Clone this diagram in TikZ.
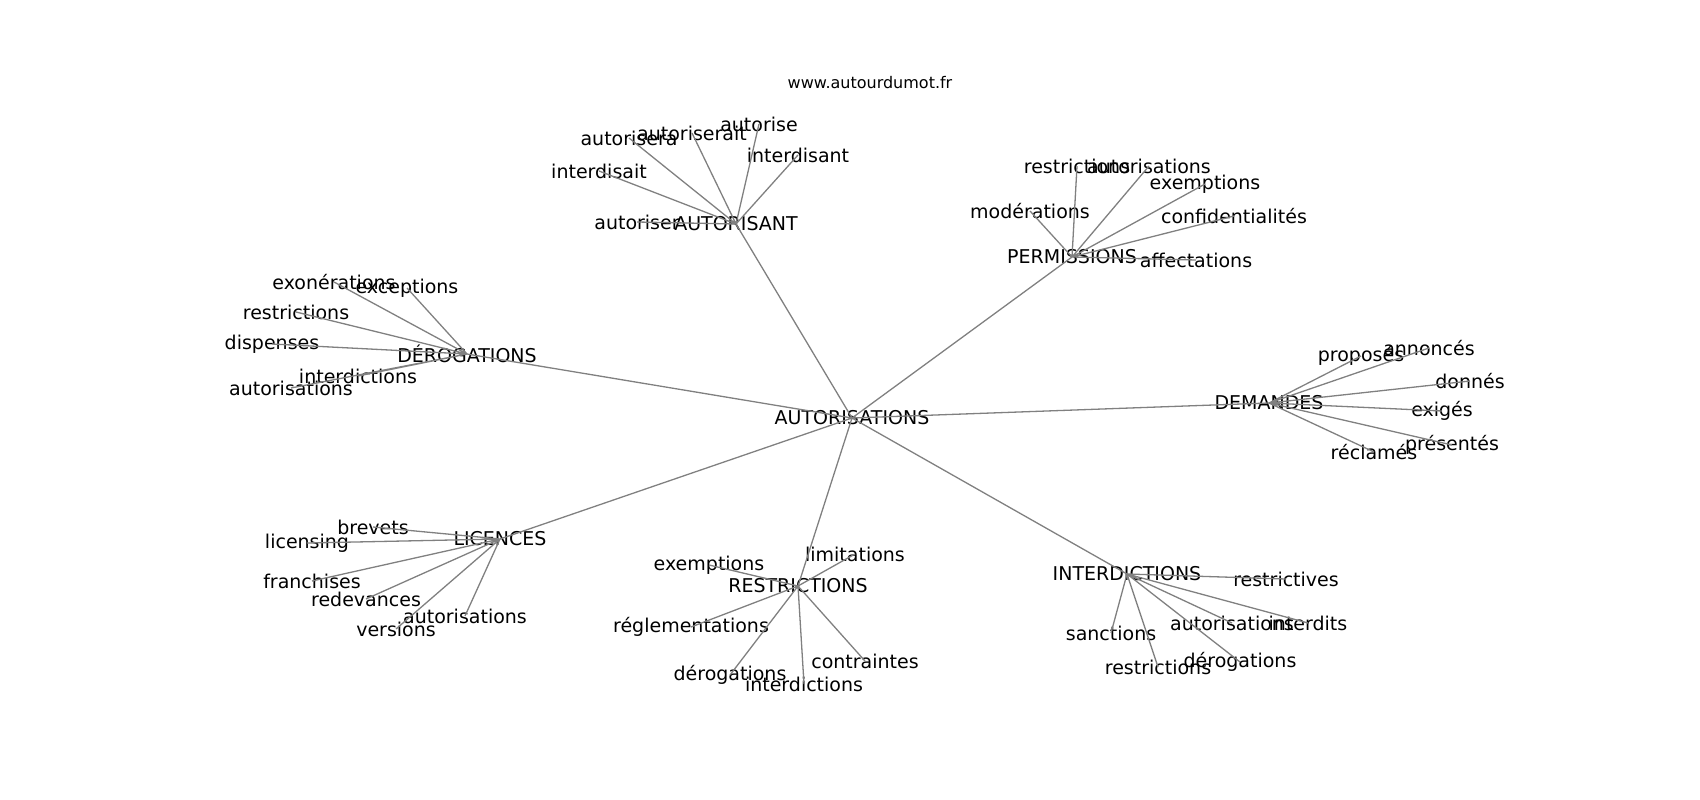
\documentclass[tikz,border=0pt]{standalone}
\usepackage{fontspec}
\setmainfont{DejaVu Sans}

\begin{document}
\begin{tikzpicture}[x=1pt,y=-1pt,
    word/.style={inner sep=0,text=black,font=\wordfontsize},
    edge/.style={draw=gray,line width=1.3pt}]
    \providecommand{\wordfontsize}{\fontsize{19}{23}\selectfont}
    \providecommand{\titlefontsize}{\fontsize{16}{19}\selectfont}
    \useasboundingbox (0,0) rectangle (1700,800);
    \node[inner sep=0,font=\titlefontsize] (site) at (870,83) {www.autourdumot.fr};
    % centre and hubs
    \node[word] (autorisations) at (852,418) {AUTORISATIONS};
    \node[word] (autorisant) at (736,224) {AUTORISANT};
    \node[word] (permissions) at (1072,257) {PERMISSIONS};
    \node[word] (derogations) at (467,354) {DÉROGATIONS};
    \node[word] (demandes) at (1269,403) {DEMANDES};
    \node[word] (licences) at (500,539) {LICENCES};
    \node[word] (restrictions) at (798,586) {RESTRICTIONS};
    \node[word] (interdictions) at (1127,574) {INTERDICTIONS};
    % AUTORISANT
    \node[word] (as1) at (629,138) {autorisera};
    \node[word] (as2) at (692,133) {autoriserait};
    \node[word] (as3) at (759,124) {autorise};
    \node[word] (as4) at (798,155) {interdisant};
    \node[word] (as5) at (599,171) {interdisait};
    \node[word] (as6) at (637,222) {autoriser};
    % PERMISSIONS
    \node[word] (pe1) at (1077,166) {restrictions};
    \node[word] (pe2) at (1149,166) {autorisations};
    \node[word] (pe3) at (1205,184) {exemptions};
    \node[word] (pe4) at (1234,216) {confidentialités};
    \node[word] (pe5) at (1030,211) {modérations};
    \node[word] (pe6) at (1196,260) {affectations};
    % DÉROGATIONS
    \node[word] (de1) at (334,282) {exonérations};
    \node[word] (de2) at (407,288) {exceptions};
    \node[word] (de3) at (296,312) {restrictions};
    \node[word] (de4) at (272,344) {dispenses};
    \node[word] (de5) at (358,376) {interdictions};
    \node[word] (de6) at (291,388) {autorisations};
    % DEMANDES
    \node[word] (dm1) at (1361,356) {proposés};
    \node[word] (dm2) at (1429,348) {annoncés};
    \node[word] (dm3) at (1470,381) {donnés};
    \node[word] (dm4) at (1442,411) {exigés};
    \node[word] (dm5) at (1452,445) {présentés};
    \node[word] (dm6) at (1374,452) {réclamés};
    % LICENCES
    \node[word] (li1) at (373,527) {brevets};
    \node[word] (li2) at (307,543) {licensing};
    \node[word] (li3) at (312,581) {franchises};
    \node[word] (li4) at (366,599) {redevances};
    \node[word] (li5) at (465,616) {autorisations};
    \node[word] (li6) at (396,629) {versions};
    % RESTRICTIONS
    \node[word] (re1) at (855,554) {limitations};
    \node[word] (re2) at (709,565) {exemptions};
    \node[word] (re3) at (691,627) {réglementations};
    \node[word] (re4) at (730,675) {dérogations};
    \node[word] (re5) at (804,684) {interdictions};
    \node[word] (re6) at (865,661) {contraintes};
    % INTERDICTIONS
    \node[word] (in1) at (1286,579) {restrictives};
    \node[word] (in2) at (1111,633) {sanctions};
    \node[word] (in3) at (1158,667) {restrictions};
    \node[word] (in4) at (1232,623) {autorisations};
    \node[word] (in5) at (1308,623) {interdits};
    \node[word] (in6) at (1240,662) {dérogations};
    % connectors
    \draw[edge] (autorisations.center) -- (autorisant.center)
        (autorisations.center) -- (permissions.center)
        (autorisations.center) -- (derogations.center)
        (autorisations.center) -- (demandes.center)
        (autorisations.center) -- (licences.center)
        (autorisations.center) -- (restrictions.center)
        (autorisations.center) -- (interdictions.center);
    \draw[edge] (autorisant.center) -- (as1.center) (autorisant.center) -- (as2.center)
        (autorisant.center) -- (as3.center) (autorisant.center) -- (as4.center)
        (autorisant.center) -- (as5.center) (autorisant.center) -- (as6.center);
    \draw[edge] (permissions.center) -- (pe1.center) (permissions.center) -- (pe2.center)
        (permissions.center) -- (pe3.center) (permissions.center) -- (pe4.center)
        (permissions.center) -- (pe5.center) (permissions.center) -- (pe6.center);
    \draw[edge] (derogations.center) -- (de1.center) (derogations.center) -- (de2.center)
        (derogations.center) -- (de3.center) (derogations.center) -- (de4.center)
        (derogations.center) -- (de5.center) (derogations.center) -- (de6.center);
    \draw[edge] (demandes.center) -- (dm1.center) (demandes.center) -- (dm2.center)
        (demandes.center) -- (dm3.center) (demandes.center) -- (dm4.center)
        (demandes.center) -- (dm5.center) (demandes.center) -- (dm6.center);
    \draw[edge] (licences.center) -- (li1.center) (licences.center) -- (li2.center)
        (licences.center) -- (li3.center) (licences.center) -- (li4.center)
        (licences.center) -- (li5.center) (licences.center) -- (li6.center);
    \draw[edge] (restrictions.center) -- (re1.center) (restrictions.center) -- (re2.center)
        (restrictions.center) -- (re3.center) (restrictions.center) -- (re4.center)
        (restrictions.center) -- (re5.center) (restrictions.center) -- (re6.center);
    \draw[edge] (interdictions.center) -- (in1.center) (interdictions.center) -- (in2.center)
        (interdictions.center) -- (in3.center) (interdictions.center) -- (in4.center)
        (interdictions.center) -- (in5.center) (interdictions.center) -- (in6.center);
\end{tikzpicture}
\end{document}
